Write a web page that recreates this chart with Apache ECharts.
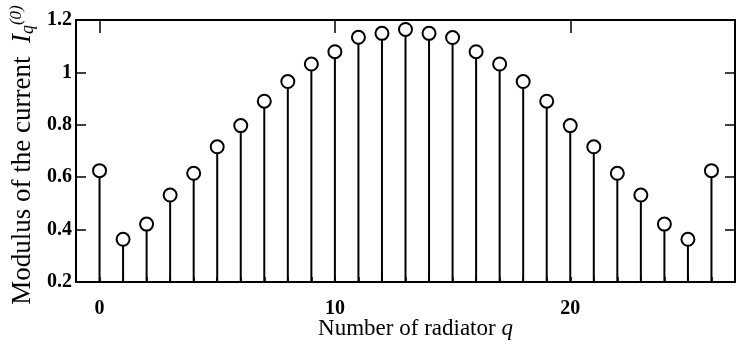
<!DOCTYPE html>
<html>
<head>
<meta charset="utf-8">
<script src="https://cdn.jsdelivr.net/npm/echarts@6/dist/echarts.min.js"></script>
<style>
html,body{margin:0;padding:0;background:#fff;}
#chart{width:737px;height:349px;}
</style>
</head>
<body>
<div id="chart"></div>
<script>
// Radiator index q
const radiators = [0,1,2,3,4,5,6,7,8,9,10,11,12,13,14,15,16,17,18,19,20,21,22,23,24,25,26];
// Modulus of the current |I_q^(0)|
const currents = [0.625,0.363,0.421,0.532,0.615,0.716,0.797,0.890,0.965,1.032,1.079,1.134,1.149,1.164,
                  1.149,1.133,1.079,1.032,0.965,0.890,0.797,0.716,0.615,0.532,0.421,0.363,0.625];
const xMajorTicks = [0,10,20];
const yTicks = [0.2,0.4,0.6,0.8,1,1.2];

const points = radiators.map((q,i)=>[q,currents[i]]);
const serif = '"Liberation Serif","Times New Roman",serif';

const chart = echarts.init(document.getElementById('chart'), null, {renderer:'canvas'});
chart.setOption({
  animation:false,
  backgroundColor:'#fff',
  grid:{left:76,right:2,top:20,bottom:67,containLabel:false,outerBoundsMode:'none'},
  xAxis:[{
    type:'value', position:'bottom', min:-1, max:27, interval:1,
    axisLine:{show:true,onZero:false,lineStyle:{color:'#000',width:2}},
    axisTick:{show:true,inside:true,length:5,lineStyle:{color:'#000',width:1.5}},
    splitLine:{show:false},
    axisLabel:{show:true,margin:17,fontFamily:serif,fontWeight:'bold',fontSize:20,color:'#000',
      formatter:v=> xMajorTicks.indexOf(v)>=0 ? String(v) : ''},
    name:'Number of radiator {q|q}', nameLocation:'middle', nameGap:35, nameMoveOverlap:false,
    nameTextStyle:{fontFamily:serif,fontSize:23,color:'#000',padding:[0,0,0,20],
      rich:{q:{fontFamily:serif,fontSize:23,fontStyle:'italic',color:'#000'}}}
  },{
    type:'value', position:'top', min:-1, max:27,
    axisLine:{show:true,onZero:false,lineStyle:{color:'#000',width:2}},
    axisTick:{show:true,inside:true,length:13,customValues:xMajorTicks,lineStyle:{color:'#000',width:1.5}},
    axisLabel:{show:false},
    splitLine:{show:false}
  }],
  yAxis:[{
    type:'value', position:'left', min:0.2, max:1.2, interval:0.2,
    axisLine:{show:true,onZero:false,lineStyle:{color:'#000',width:2}},
    axisTick:{show:true,inside:true,length:10,lineStyle:{color:'#000',width:1.5}},
    splitLine:{show:false},
    axisLabel:{margin:4,fontFamily:serif,fontWeight:'bold',fontSize:20,color:'#000',
      formatter:v=>String(Math.round(v*10)/10)},
    name:'Modulus of the current  {i|I}{sub|q}{sup|(0)}', nameLocation:'middle', nameGap:39, nameMoveOverlap:false,
    nameTextStyle:{fontFamily:serif,fontSize:27,color:'#000',padding:[0,8,0,0],
      rich:{
        i:{fontFamily:serif,fontSize:27,fontStyle:'italic',color:'#000'},
        sub:{fontFamily:serif,fontSize:18,fontStyle:'italic',color:'#000',verticalAlign:'bottom',padding:[9,0,0,0]},
        sup:{fontFamily:serif,fontSize:17,fontStyle:'italic',color:'#000',verticalAlign:'top',padding:[0,0,12,0]}
      }}
  },{
    type:'value', position:'right', min:0.2, max:1.2, interval:0.2,
    axisLine:{show:true,onZero:false,lineStyle:{color:'#000',width:2}},
    axisTick:{show:true,inside:true,length:10,lineStyle:{color:'#000',width:1.5}},
    axisLabel:{show:false},
    splitLine:{show:false}
  }],
  series:[{
    type:'custom',
    xAxisIndex:0, yAxisIndex:0,
    data:points,
    renderItem:function(params, api){
      const base = api.coord([api.value(0), yTicks[0]]);
      const top = api.coord([api.value(0), api.value(1)]);
      return {type:'line', shape:{x1:base[0],y1:base[1],x2:top[0],y2:top[1]},
              style:{stroke:'#000',lineWidth:2}};
    },
    z:2
  },{
    type:'scatter',
    xAxisIndex:0, yAxisIndex:0,
    data:points,
    symbol:'circle', symbolSize:13,
    itemStyle:{color:'#fff',borderColor:'#000',borderWidth:2,opacity:1},
    z:3
  }]
});
</script>
</body>
</html>
